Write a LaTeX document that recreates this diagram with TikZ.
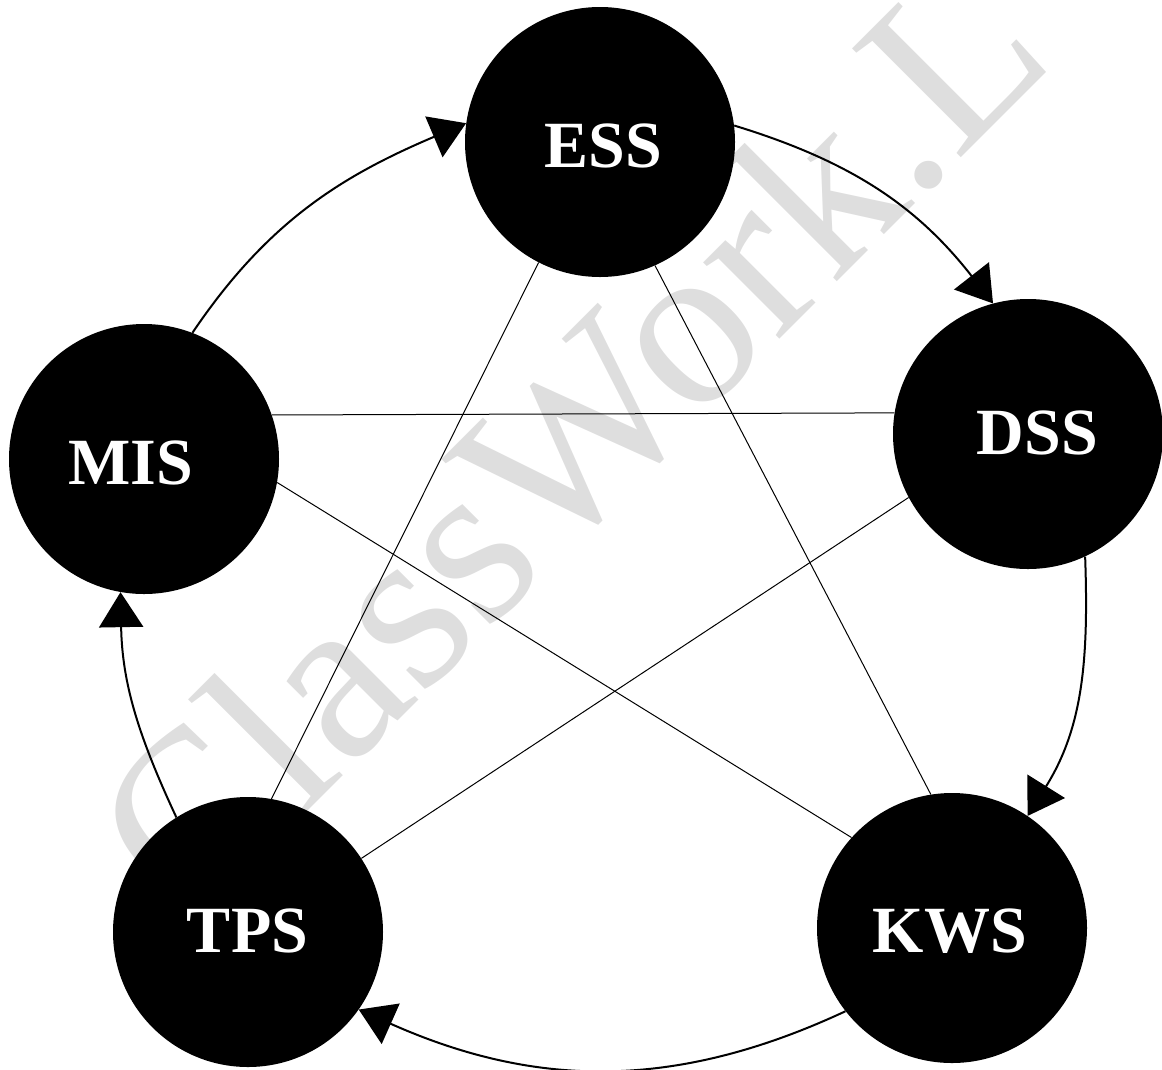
\documentclass[tikz,border=0pt]{standalone}
\usepackage{fontspec}
\setmainfont{Liberation Serif}
\usetikzlibrary{arrows.meta}
\begin{document}
\begin{tikzpicture}[x=1pt,y=-1pt,
  sysnode/.style={circle,fill=black,minimum size=270pt,inner sep=0pt},
  lbl/.style={text=white,font=\fontsize{66}{70}\selectfont\bfseries,inner sep=0pt},
  link/.style={line width=1pt},
  flow/.style={line width=2pt,-{Triangle[length=35pt,width=44pt]}},
  wm/.style={text=black!13,font=\fontsize{235}{235}\selectfont,rotate=45,anchor=base west,inner sep=0pt}]
\useasboundingbox (0,0) rectangle (1162,1069);
\begin{scope}
\clip (0,0) rectangle (1162,1069);
\node[wm] (mark) at (190,929) {ClassWork.L};
\end{scope}
\node[sysnode] (ess) at (600,142) {};
\node[sysnode] (dss) at (1028,434) {};
\node[sysnode] (kws) at (952,928) {};
\node[sysnode] (tps) at (248,932) {};
\node[sysnode] (mis) at (144,459) {};
\node[lbl] (esst) at (603.5,145.5) {ESS};
\node[lbl] (dsst) at (1037.5,433) {DSS};
\node[lbl] (kwst) at (950,931) {KWS};
\node[lbl] (tpst) at (247.5,931) {TPS};
\node[lbl] (mist) at (131,463) {MIS};
\draw[link] (ess.243.4) -- (tps.80.3);
\draw[link] (ess.294) -- (kws.99);
\draw[link] (mis.19.5) -- (dss.171.5);
\draw[link] (mis.-10.4) -- (kws.138.6);
\draw[link] (dss.208.2) -- (tps.33.5);
\draw[flow] (mis.69) to[out=56,in=203] (ess.172);
\draw[flow] (ess.7) to[out=-17,in=128] (dss.105.5);
\draw[flow] (dss.-65.4) to[out=-88,in=58] (kws.56);
\draw[flow] (kws.218) to[out=205,in=336] (tps.325);
\draw[flow] (tps.122) to[out=115,in=271] (mis.260);
\end{tikzpicture}
\end{document}
